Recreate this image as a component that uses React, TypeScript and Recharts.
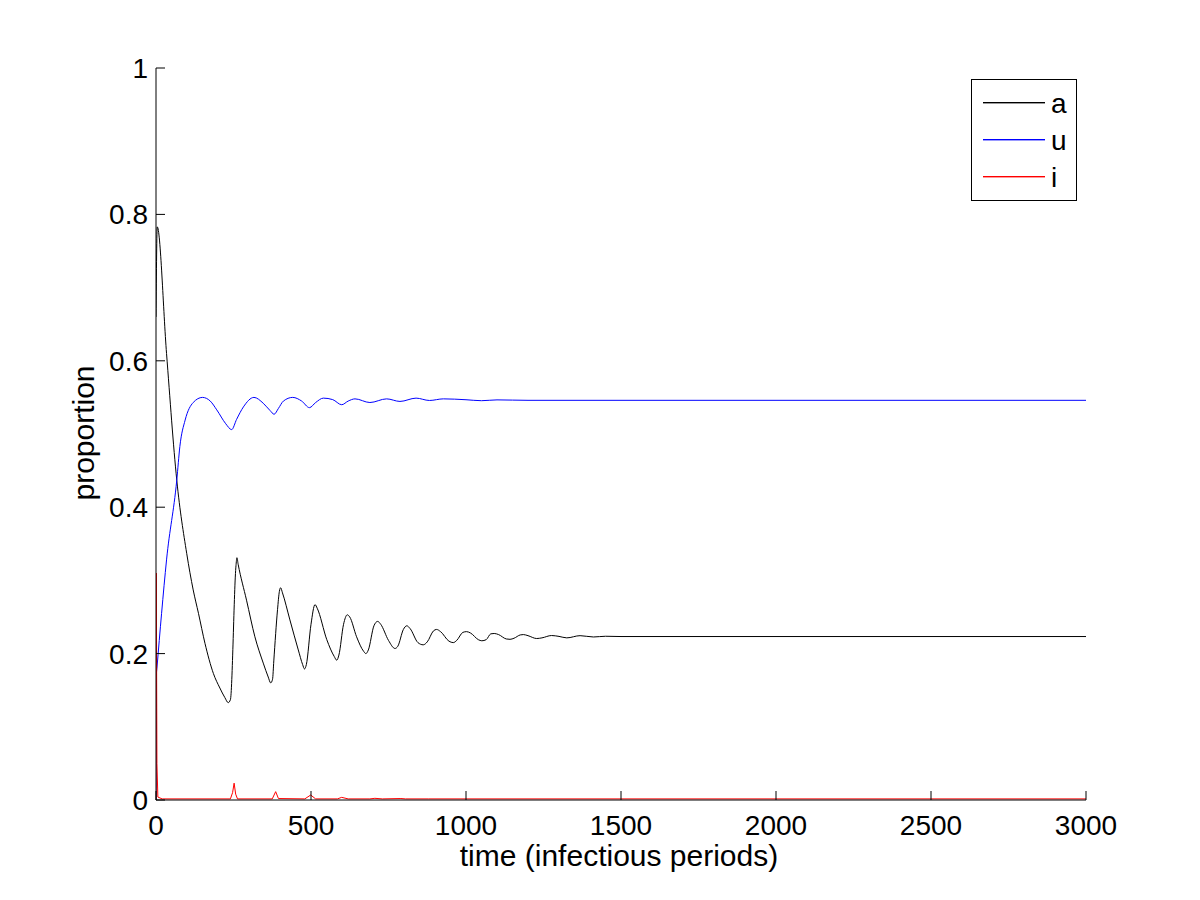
import React from 'react'
import { LineChart, Line, XAxis, YAxis } from 'recharts'

// time axis (infectious periods) and series values
const aTime = [0, 4, 34, 67, 99, 120, 137, 158, 185, 206, 222, 233, 240, 258, 261, 265, 292, 319, 346, 362, 370, 376, 380, 392, 398, 402, 408, 432, 459, 473, 479, 485, 500, 513, 520, 551, 575, 583, 590, 605, 617, 625, 647, 670, 677, 685, 703, 715, 725, 750, 771, 780, 798, 809, 820, 845, 862, 875, 895, 905, 918, 945, 959, 970, 990, 1002, 1015, 1040, 1051, 1065, 1080, 1091, 1105, 1130, 1142, 1155, 1175, 1185, 1200, 1228, 1245, 1276, 1300, 1325, 1368, 1411, 1450, 1500, 2000, 2500, 3000]
const aValues = [0.66, 0.783, 0.61, 0.437, 0.337, 0.287, 0.255, 0.214, 0.173, 0.153, 0.14, 0.133, 0.137, 0.32, 0.331, 0.322, 0.273, 0.223, 0.187, 0.168, 0.16, 0.165, 0.19, 0.26, 0.285, 0.29, 0.283, 0.246, 0.205, 0.185, 0.179, 0.185, 0.24, 0.267, 0.262, 0.219, 0.196, 0.191, 0.198, 0.24, 0.253, 0.25, 0.223, 0.203, 0.2, 0.205, 0.238, 0.244, 0.24, 0.218, 0.207, 0.21, 0.233, 0.238, 0.234, 0.215, 0.212, 0.216, 0.231, 0.233, 0.23, 0.217, 0.215, 0.218, 0.229, 0.23, 0.228, 0.219, 0.2175, 0.219, 0.227, 0.2275, 0.226, 0.22, 0.2195, 0.221, 0.2255, 0.226, 0.2245, 0.2206, 0.2215, 0.2247, 0.2235, 0.2215, 0.2245, 0.2227, 0.2237, 0.2233, 0.2233, 0.2233, 0.2233]

const uTime = [0, 1, 3, 18, 34, 67, 77, 94, 120, 150, 175, 196, 225, 244, 260, 282, 316, 346, 368, 381, 395, 411, 441, 470, 495, 515, 540, 570, 599, 620, 642, 690, 744, 787, 839, 882, 927, 1000, 1050, 1100, 1200, 1500, 2000, 2500, 3000]
const uValues = [0, 0.17, 0.18, 0.255, 0.328, 0.437, 0.483, 0.519, 0.543, 0.55, 0.545, 0.533, 0.514, 0.506, 0.52, 0.537, 0.55, 0.542, 0.532, 0.527, 0.535, 0.545, 0.55, 0.545, 0.536, 0.543, 0.549, 0.547, 0.54, 0.545, 0.548, 0.543, 0.548, 0.5445, 0.549, 0.5458, 0.548, 0.5468, 0.5455, 0.5466, 0.546, 0.546, 0.546, 0.546, 0.546]

const iTime = [0, 1, 3, 6, 20, 240, 247, 252, 257, 263, 375, 386, 395, 480, 499, 515, 585, 599, 620, 690, 706, 730, 790, 805, 880, 3000]
const iValues = [0, 0.31, 0.05, 0.004, 0.0015, 0.0015, 0.01, 0.023, 0.008, 0.0015, 0.0015, 0.0114, 0.002, 0.0015, 0.0068, 0.0015, 0.0015, 0.0036, 0.0015, 0.0015, 0.0023, 0.0015, 0.002, 0.0015, 0.0015, 0.0015]

const xTicks = [0, 500, 1000, 1500, 2000, 2500, 3000]
const yTicks = [0, 0.2, 0.4, 0.6, 0.8, 1]
const yTickLabels = ['0', '0.2', '0.4', '0.6', '0.8', '1']

const seriesNames = ['a', 'u', 'i']
const seriesColors = ['#000000', '#0000ff', '#ff0000']

const FONT = 'Arial, "Liberation Sans", sans-serif'

const toRows = (t: number[], v: number[]) => t.map((x, k) => ({ t: x, v: v[k] }))

const aData = toRows(aTime, aValues)
const uData = toRows(uTime, uValues)
const iData = toRows(iTime, iValues)

const XTick = (props: any) => {
  const { x, y, payload } = props
  return (
    <g>
      <line x1={x} y1={y} x2={x} y2={y - 9} stroke="#000" strokeWidth={1} />
      <text x={x} y={y + 35} textAnchor="middle" fontSize={28} fontFamily={FONT} fill="#000">
        {payload.value}
      </text>
    </g>
  )
}

const YTick = (props: any) => {
  const { x, y, payload, index } = props
  return (
    <g>
      <line x1={x} y1={y} x2={x + 9} y2={y} stroke="#000" strokeWidth={1} />
      <text x={x - 8} y={y + 10} textAnchor="end" fontSize={28} fontFamily={FONT} fill="#000">
        {yTickLabels[index] ?? payload.value}
      </text>
    </g>
  )
}

function LegendBox() {
  return (
    <svg width={108} height={124} style={{ position: 'absolute', left: 970, top: 78 }}>
      <rect x={1.5} y={1.5} width={105} height={121} fill="#fff" stroke="#000" strokeWidth={1} />
      {seriesNames.map((name, k) => {
        const cy = 24 + k * 37
        return (
          <g key={name}>
            <rect x={13} y={cy} width={62} height={1.4} fill={seriesColors[k]} />
            <text x={81} y={cy + 11} fontSize={28} fontFamily={FONT} fill="#000">
              {name}
            </text>
          </g>
        )
      })}
    </svg>
  )
}

export default function App() {
  return (
    <div style={{ position: 'absolute', left: 0, top: 0, width: 1200, height: 900, background: '#fff' }}>
      <LineChart width={1200} height={900} margin={{ top: 68, right: 114, bottom: 0, left: 0 }}>
        <XAxis
          dataKey="t"
          type="number"
          domain={[0, 3000]}
          ticks={xTicks}
          interval={0}
          height={100}
          tickSize={0}
          tickMargin={0}
          tickLine={false}
          axisLine={{ stroke: '#000', strokeWidth: 1 }}
          tick={<XTick />}
          allowDataOverflow
          label={{
            content: () => (
              <text x={619} y={866} textAnchor="middle" fontSize={30} fontFamily={FONT} fill="#000">
                time (infectious periods)
              </text>
            ),
          }}
        />
        <YAxis
          type="number"
          domain={[0, 1]}
          ticks={yTicks}
          interval={0}
          width={156}
          tickSize={0}
          tickMargin={0}
          tickLine={false}
          axisLine={{ stroke: '#000', strokeWidth: 1 }}
          tick={<YTick />}
          allowDataOverflow
          label={{
            content: () => (
              <text
                x={94}
                y={433}
                textAnchor="middle"
                fontSize={30}
                fontFamily={FONT}
                fill="#000"
                transform="rotate(-90, 94, 433)"
              >
                proportion
              </text>
            ),
          }}
        />
        <Line data={aData} dataKey="v" name="a" type="monotone" stroke={seriesColors[0]} strokeWidth={1} dot={false} isAnimationActive={false} />
        <Line data={uData} dataKey="v" name="u" type="monotone" stroke={seriesColors[1]} strokeWidth={1} dot={false} isAnimationActive={false} />
        <Line data={iData} dataKey="v" name="i" type="linear" stroke={seriesColors[2]} strokeWidth={1} dot={false} isAnimationActive={false} />
      </LineChart>
      <LegendBox />
    </div>
  )
}
